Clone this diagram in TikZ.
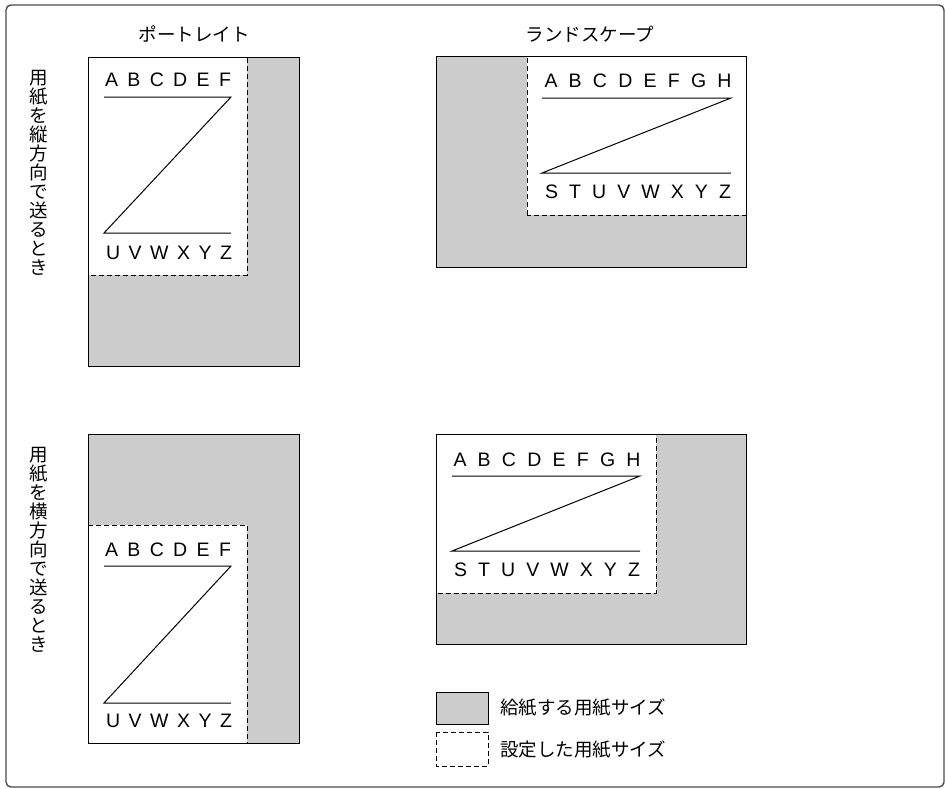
\documentclass[tikz,border=0pt]{standalone}
\usepackage{fontspec}
\setmainfont{Liberation Sans}
\newfontfamily\jp{Noto Sans CJK JP}
\begin{document}
\begin{tikzpicture}[x=1pt,y=-1pt,
  paper/.style={draw=black,line width=1pt,fill=black!20},
  setarea/.style={draw=black,line width=1pt,fill=white,dash pattern=on 5pt off 3pt},
  zline/.style={draw=black,line width=1pt},
  lbl/.style={inner sep=0pt,font=\fontsize{19.5}{19.5}\selectfont},
  jlbl/.style={inner sep=0pt,font=\jp\fontsize{18.5}{19}\selectfont},
  vlbl/.style={inner sep=0pt,align=center,font=\jp\fontsize{18.5}{19}\selectfont}]
\newcommand{\spreadrow}[2]{\makebox[#1pt][s]{#2}}
\useasboundingbox (0,0) rectangle (946,788);
\draw[draw=black!70,line width=1.4pt,rounded corners=5pt] (6,5) rectangle (944,787);

% titles
\node[jlbl] (tP) at (194,34) {ポートレイト};
\node[jlbl] (tL) at (590,34) {ランドスケープ};
\node[vlbl,anchor=north] (v1) at (39,70) {用\\紙\\を\\縦\\方\\向\\で\\送\\る\\と\\き};
\node[vlbl,anchor=north] (v2) at (39,447) {用\\紙\\を\\横\\方\\向\\で\\送\\る\\と\\き};

% panel 1: portrait, vertical feed
\path[paper] (88,57) rectangle (299,366);
\path[setarea] (88,57) -- (247,57) -- (247,275) -- (88,275) -- cycle;
\draw[line width=1pt] (88,57) rectangle (299,366);
\coordinate (a1) at (104,97); \coordinate (b1) at (231,97);
\coordinate (c1) at (104,233); \coordinate (d1) at (231,233);
\draw[zline] (a1) -- (b1) -- (c1) -- (d1);
\node[lbl,anchor=base] (p1t) at (168,86) {\spreadrow{126}{A\hfill B\hfill C\hfill D\hfill E\hfill F}};
\node[lbl,anchor=base] (p1b) at (169,259) {\spreadrow{126}{U\hfill V\hfill W\hfill X\hfill Y\hfill Z}};

% panel 2: landscape, vertical feed
\path[paper] (436,56) rectangle (746,267);
\path[setarea] (527,215) -- (527,56) -- (746,56) -- (746,215) -- cycle;
\draw[line width=1pt] (436,56) rectangle (746,267);
\coordinate (a2) at (542,98); \coordinate (b2) at (731,98);
\coordinate (c2) at (542,173); \coordinate (d2) at (731,173);
\draw[zline] (a2) -- (b2) -- (c2) -- (d2);
\node[lbl,anchor=base] (p2t) at (638,87) {\spreadrow{187}{A\hfill B\hfill C\hfill D\hfill E\hfill F\hfill G\hfill H}};
\node[lbl,anchor=base] (p2b) at (638,198) {\spreadrow{186}{S\hfill T\hfill U\hfill V\hfill W\hfill X\hfill Y\hfill Z}};

% panel 3: portrait, horizontal feed
\path[paper] (88,434) rectangle (299,743);
\path[setarea] (88,525) -- (247,525) -- (247,743) -- (88,743) -- cycle;
\draw[line width=1pt] (88,434) rectangle (299,743);
\coordinate (a3) at (104,566); \coordinate (b3) at (231,566);
\coordinate (c3) at (104,703); \coordinate (d3) at (231,703);
\draw[zline] (a3) -- (b3) -- (c3) -- (d3);
\node[lbl,anchor=base] (p3t) at (168,556) {\spreadrow{126}{A\hfill B\hfill C\hfill D\hfill E\hfill F}};
\node[lbl,anchor=base] (p3b) at (169,727) {\spreadrow{126}{U\hfill V\hfill W\hfill X\hfill Y\hfill Z}};

% panel 4: landscape, horizontal feed
\path[paper] (436,434) rectangle (746,644);
\path[setarea] (436,434) -- (656,434) -- (656,593) -- (436,593) -- cycle;
\draw[line width=1pt] (436,434) rectangle (746,644);
\coordinate (a4) at (452,476); \coordinate (b4) at (640,476);
\coordinate (c4) at (452,551); \coordinate (d4) at (640,551);
\draw[zline] (a4) -- (b4) -- (c4) -- (d4);
\node[lbl,anchor=base] (p4t) at (547,466) {\spreadrow{187}{A\hfill B\hfill C\hfill D\hfill E\hfill F\hfill G\hfill H}};
\node[lbl,anchor=base] (p4b) at (547,576) {\spreadrow{186}{S\hfill T\hfill U\hfill V\hfill W\hfill X\hfill Y\hfill Z}};

% legend
\path[paper] (436,692) rectangle (488,724);
\path[setarea] (436,732) rectangle (488,766);
\node[jlbl,anchor=west] (lg1) at (500,708) {給紙する用紙サイズ};
\node[jlbl,anchor=west] (lg2) at (500,750) {設定した用紙サイズ};
\end{tikzpicture}
\end{document}
